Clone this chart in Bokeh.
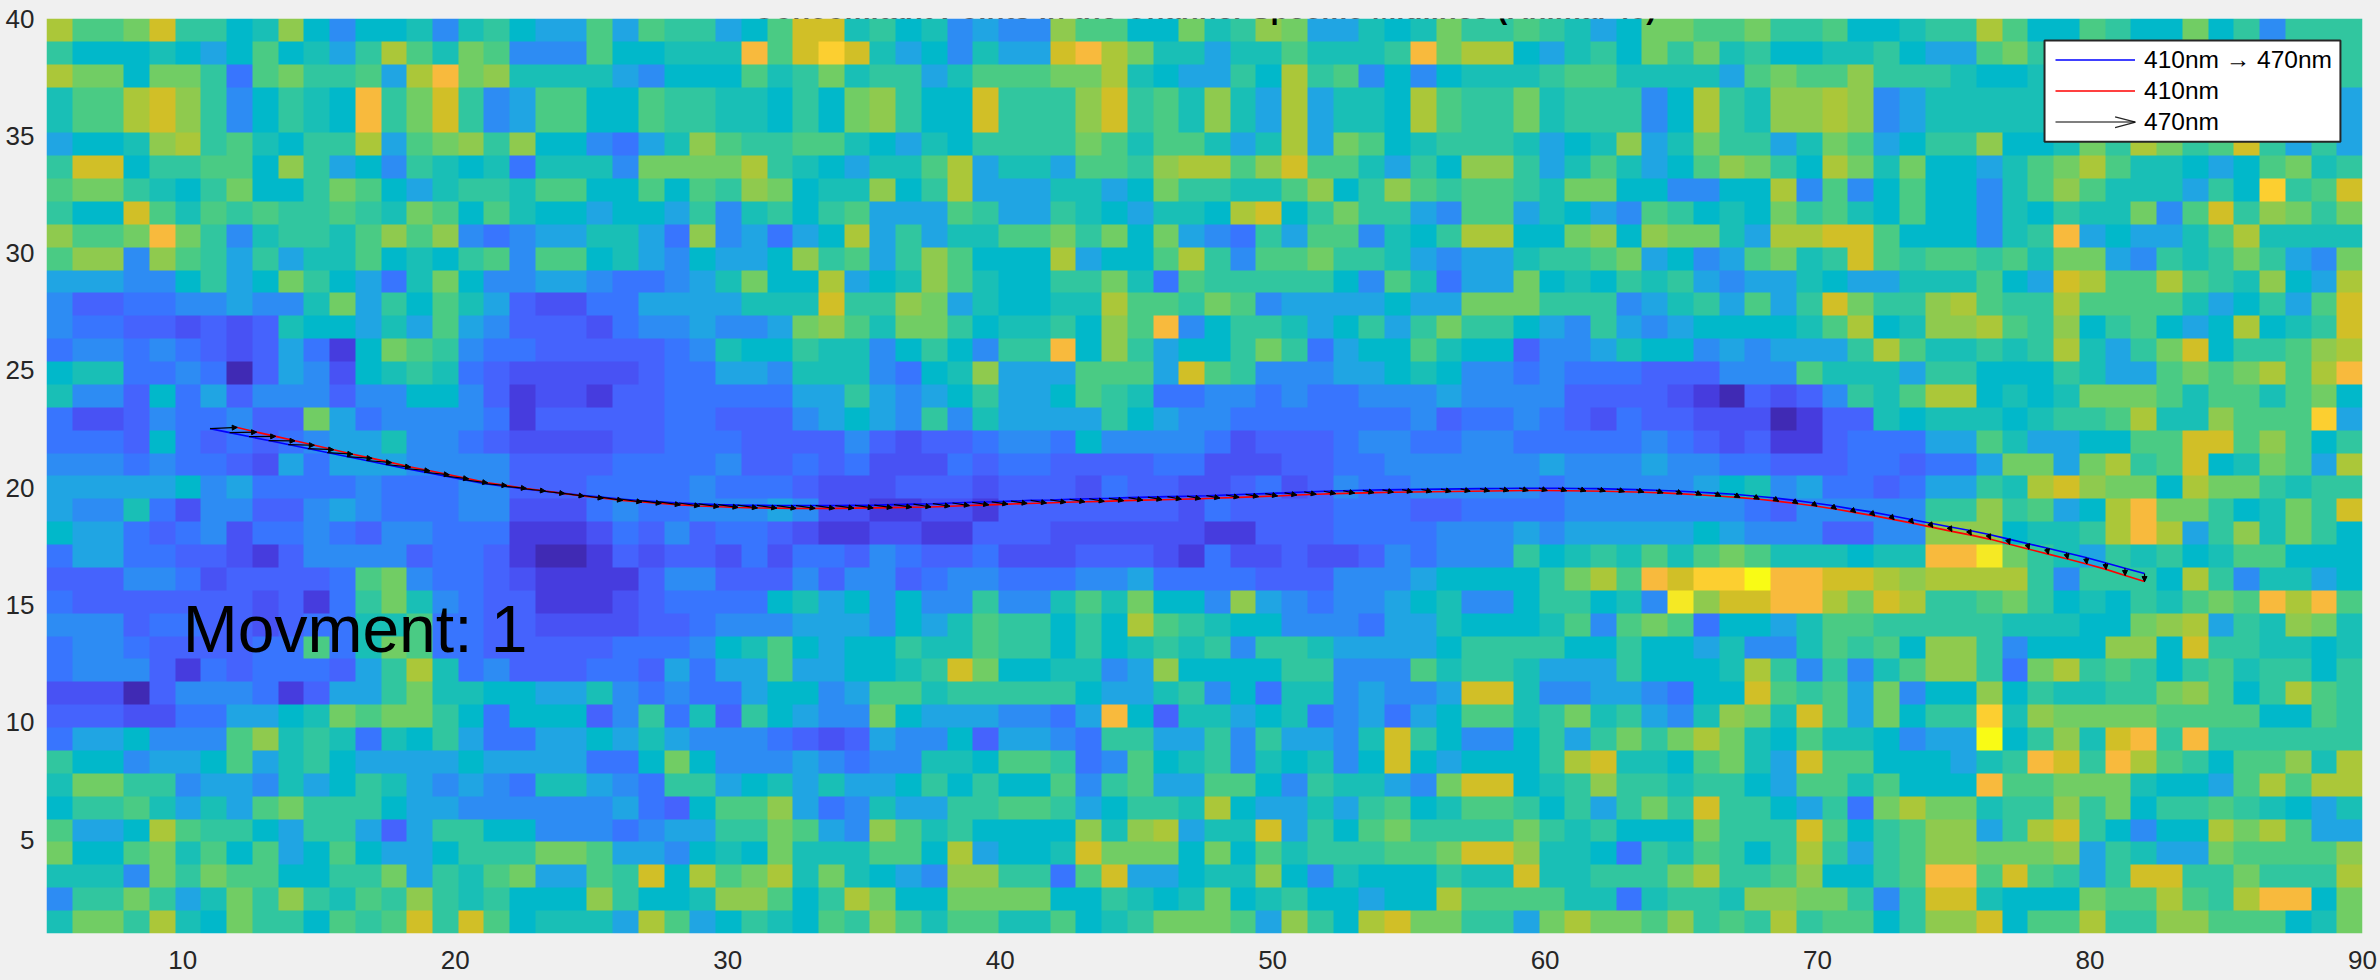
import numpy as np
from bokeh.plotting import figure
from bokeh.embed import file_html
from bokeh.resources import INLINE
from bokeh.models import (Range1d, FixedTicker, LinearColorMapper, Legend, LegendItem, Label,
                          BoxAnnotation, Arrow, NormalHead, ColumnDataSource)

# heat-map cells, top row (y=40) first; columns 1-30, 31-60, 61-90
left_cells = """c99ad 8867b 64667 47865 59598 8569d
86667 65696 758c9 7a944 49667 77e9d
caa6a a839a 8895c eab77 77546 66978
799cd b8468 76e8a d8459 96698 87768
799cd b8468 76e8a d8459 96698 87768
5667b c8976 88c59 ab8b6 64357 b9889
8dd68 8996b 85648 76737 774aa aac87
9aa87 68a66 8a965 78879 96696 98ba6
866d9 79898 8987a 96976 65665 84786
b99ae a8478 879b9 b4345 57753 b4535
9bb4b 98585 77967 68949 96754 6556b
55544 6856a 86537 a6445 54334 57a66
42233 44544 7a586 97521 13355 55777
43322 12127 66575 95422 21344 5445a
34434 32125 3x6a9 84332 22223 47668
67733 43025 41678 73211 11123 35547
74426 35244 42446 642x1 1x223 33335
31124 33422 a5344 443x2 22223 32224
33326 32323 45574 43211 11223 33222
44434 33215 35554 44422 22333 34223
55555 64533 33433 34422 23333 43332
54473 14422 45433 34411 13433 44454
65532 34133 43244 333xx x1324 23321
35533 221x2 44442 332x0 0x212 21313
22244 31222 239a4 3321x xxx24 42224
32222 22212 x38a7 4322x xx123 33367
44423 32212 33779 33221 11122 34445
34432 22233 937a9 33222 22333 46796
34442 x3233 3258c 73422 23325 35595
11102 4443x 2558a 77665 57434 33566
22211 33556 7a9aa 86366 62483 72865
35564 449b7 87376 85335 56575 44432
86645 56957 86555 56555 5336a 64445
7aa88 45547 56875 45437 75438 85675
68897 5759a 88865 54444 44532 699b5
9556c 98865 88525 88664 44345 588a9
a669a 79695 69655 6888a a9554 676a7
7774a 8a996 688a5 879a5 598d6 c9ac7
488a8 57a8b 8798b 87866 6b866 7bb96
7aa8c 76a88 6989d 8d967 775c9 56876"""

middle_cells = """d7867 4544b 9966a 78ba5 5767a 88987
gd756 4755d eca77 57797 778ea cc657
a7885 7999a ac765 586c8 94646 77789
6ab86 6d888 bd897 b75c5 776c9 88a78
6ab86 6d888 bd897 b75c5 776c9 88a78
97657 68888 a9799 757c5 a9678 88756
65779 c5775 998bc c9bd9 97586 bb857
77b68 c5557 756a8 8779b 68b98 9987a
89555 98558 76577 6cd68 a8854 99576
6c585 7799a 8a6a5 43859 94768 cc66a
8958b 9666c 5669c 8499a 88754 55788
c567b 97668 8a739 88888 64973 55a67
d88ba 57667 7c998 a9455 55655 aaa88
b97aa 86778 6b9e4 68875 6858a 88654
77468 6488e 6b856 68a83 56697 66244
77436 7b555 9995d 98444 55676 44343
58545 68556 98733 44343 34445 44442
56548 47555 58654 43333 33342 33432
24212 23443 64444 31222 34433 44333
23111 32332 22233 11122 33444 44454
11122 21222 13221 12312 43344 44434
11xx1 1x222 22221 32222 33322 33334
xx11x x2221 11111 xx222 33334 44545
32432 23111 2221x 31121 12434 44867
24423 44333 44533 33222 44456 6668a
56464 48447 97a66 4b543 44567 44688
55465 79886 86c98 76644 43557 66679
56687 79886 86787 84887 55556 88886
56678 da667 745b6 66688 44497 88755
45997 88888 65578 46377 45445 dd744
44a65 55443 5e627 75673 45356 9978a
12544 62554 38855 84855 47d86 44685
43447 76998 34967 84767 46d65 6668c
75568 68669 48955 99648 7754a dd678
34755 88998 56887 c6557 58967 99868
54b97 86666 b7bc5 77d58 69a88 88a87
77996 c5667 daaa6 a6978 8899a ddb77
a7654 bb883 9d556 77b64 76668 77d77
8ca66 aaaa6 68767 a6786 6566c 99997
98b97 99779 678aa a95b8 6cdaa 885ac"""

right_cells = """56aa9 9a889 66788 c9669 866a6 84888
86a8a 78667 78655 9a887 88878 87888
97777 59a99 b8887 66778 78887 88788
8846c 87bbc b4577 77778 78878 87765
8846c 87bbc b4577 77778 78878 87765
7b57a 8857a 95688 b667a 8ca89 d8585
97569 ba86c a7a66 579ac 97765 69a78
a6644 66c49 46966 479b9 77758 6g89d
54986 76a89 76966 47687 7a49d 8ba8a
b6baa 75ccd d9666 478e5 65579 c7777
9a564 59a78 d9899 897aa 54878 a854a
68785 45576 55777 965dc 99c98 7b65c
84578 5958d a88bc 988c9 99975 6859d
85456 66679 c67bb c98b6 89656 c678d
57664 54555 8c977 878c7 58ad6 889bc
33222 44497 77588 66687 559a9 ac9ce
2221x 02124 879cc 6767a aa979 979a6
13221 110x2 27677 76788 9c77b 999g5
33432 12xx2 33355 97556 699dd 9b968
44544 33222 33233 5aa5a c89d6 7a95c
44445 67453 32355 87cdb aa6ca a8788
44444 43244 44488 b8956 ceaa8 67a8d
55556 54442 244bb b6778 cec58 b7a86
87979 a9777 677ee ha875 87867 99666
c9edg gfeed dcbcc cc848 886c8 47756
674hb ddeec adc88 9a867 6879a 9ece9
49a93 66579 98888 87776 6abc5 87ba7
68665 74479 896bb 84666 bb6d8 87767
58666 7c848 479bb 83ac8 98689 78868
55436 6d989 5a466 b6877 88ab9 68c98
78547 ba7d9 5a688 g7baa aa999 96698
8a8ac a7697 76455 f68b7 de8e8 88888
d7769 a75d9 96665 78ed8 ec986 99b7c
b8878 86599 79666 e99aa a7665 9c9cc
58a8d 88658 3acaa 788b8 a6889 87657
8666a 888d9 689bb 58cd8 6466c ac955
63879 868c8 589bb aaab5 8755a 9999b
888ac 889b6 689ee 9d985 8dd88 a888c
73788 7bbaa 848dd 7666a 99c98 cee6a
aa9b8 98c89 968bb d699c 88bb9 9967a"""

cell_levels = "0x123456789abcdeghf"
level_colors = ["#402ab4", "#463cde", "#4852f4", "#4563fd", "#3875fe", "#2d8cf3", "#20a5e3",
                "#01b8ca", "#19bfb6", "#31c69f", "#4acb84", "#71cd64", "#8fca4e", "#abc739",
                "#d1bf27", "#f8ba3d", "#fccf30", "#f5e924", "#f9fb15"]

x_ticks = [10, 20, 30, 40, 50, 60, 70, 80, 90]
y_ticks = [5, 10, 15, 20, 25, 30, 35, 40]

blue_x = [11.00, 11.72, 12.43, 13.15, 13.87, 14.59, 15.30, 16.02, 16.74, 17.45,
          18.17, 18.89, 19.61, 20.32, 21.04, 21.76, 22.47, 23.19, 23.91, 24.63,
          25.34, 26.06, 26.78, 27.49, 28.21, 28.93, 29.65, 30.36, 31.08, 31.80,
          32.51, 33.23, 33.95, 34.67, 35.38, 36.10, 36.82, 37.53, 38.25, 38.97,
          39.69, 40.40, 41.12, 41.84, 42.55, 43.27, 43.99, 44.71, 45.42, 46.14,
          46.86, 47.57, 48.29, 49.01, 49.73, 50.44, 51.16, 51.88, 52.59, 53.31,
          54.03, 54.75, 55.46, 56.18, 56.90, 57.61, 58.33, 59.05, 59.77, 60.48,
          61.20, 61.92, 62.63, 63.35, 64.07, 64.79, 65.50, 66.22, 66.94, 67.65,
          68.37, 69.09, 69.81, 70.52, 71.24, 71.96, 72.67, 73.39, 74.11, 74.83,
          75.54, 76.26, 76.98, 77.69, 78.41, 79.13, 79.85, 80.56, 81.28, 82.00]
blue_y = [22.52, 22.35, 22.18, 22.01, 21.84, 21.67, 21.50, 21.33, 21.16, 20.99,
          20.82, 20.66, 20.50, 20.34, 20.18, 20.07, 19.96, 19.86, 19.77, 19.68,
          19.60, 19.52, 19.45, 19.40, 19.35, 19.31, 19.28, 19.26, 19.25, 19.24,
          19.24, 19.24, 19.24, 19.25, 19.26, 19.28, 19.30, 19.32, 19.35, 19.38,
          19.40, 19.43, 19.46, 19.48, 19.51, 19.53, 19.55, 19.58, 19.60, 19.62,
          19.64, 19.66, 19.69, 19.72, 19.75, 19.78, 19.82, 19.85, 19.87, 19.89,
          19.91, 19.92, 19.93, 19.94, 19.95, 19.96, 19.97, 19.98, 19.98, 19.98,
          19.97, 19.96, 19.94, 19.92, 19.89, 19.86, 19.82, 19.77, 19.72, 19.65,
          19.57, 19.47, 19.36, 19.24, 19.10, 18.97, 18.82, 18.66, 18.50, 18.34,
          18.19, 18.02, 17.82, 17.62, 17.43, 17.23, 17.03, 16.80, 16.57, 16.34]
red_x = [12.00, 12.71, 13.41, 14.12, 14.83, 15.54, 16.24, 16.95, 17.66, 18.36,
         19.07, 19.78, 20.49, 21.19, 21.90, 22.61, 23.31, 24.02, 24.73, 25.43,
         26.14, 26.85, 27.56, 28.26, 28.97, 29.68, 30.38, 31.09, 31.80, 32.51,
         33.21, 33.92, 34.63, 35.34, 36.04, 36.75, 37.46, 38.16, 38.87, 39.58,
         40.28, 40.99, 41.70, 42.41, 43.11, 43.82, 44.53, 45.23, 45.94, 46.65,
         47.36, 48.06, 48.77, 49.48, 50.18, 50.89, 51.60, 52.31, 53.01, 53.72,
         54.43, 55.13, 55.84, 56.55, 57.25, 57.96, 58.67, 59.38, 60.08, 60.79,
         61.50, 62.21, 62.91, 63.62, 64.33, 65.03, 65.74, 66.45, 67.15, 67.86,
         68.57, 69.28, 69.98, 70.69, 71.40, 72.10, 72.81, 73.52, 74.23, 74.93,
         75.64, 76.35, 77.05, 77.76, 78.47, 79.18, 79.88, 80.59, 81.29, 82.00]
red_y = [22.57, 22.37, 22.19, 22.00, 21.81, 21.62, 21.43, 21.25, 21.07, 20.88,
         20.72, 20.55, 20.38, 20.21, 20.09, 19.97, 19.86, 19.75, 19.64, 19.55,
         19.46, 19.39, 19.33, 19.27, 19.22, 19.19, 19.16, 19.14, 19.13, 19.12,
         19.12, 19.12, 19.13, 19.14, 19.15, 19.17, 19.18, 19.21, 19.24, 19.27,
         19.30, 19.33, 19.35, 19.38, 19.40, 19.42, 19.45, 19.47, 19.49, 19.51,
         19.53, 19.56, 19.59, 19.62, 19.65, 19.69, 19.72, 19.75, 19.77, 19.79,
         19.81, 19.82, 19.83, 19.84, 19.85, 19.86, 19.87, 19.88, 19.88, 19.87,
         19.86, 19.85, 19.83, 19.81, 19.78, 19.74, 19.69, 19.64, 19.58, 19.51,
         19.42, 19.32, 19.21, 19.08, 18.94, 18.80, 18.64, 18.48, 18.31, 18.14,
         17.98, 17.80, 17.59, 17.38, 17.17, 16.96, 16.75, 16.52, 16.26, 16.00]

title_text = "Concomitant Points in the Channel-Specific Midlines (Animal 45)"
movement_text = "Movment: 1"
legend_labels = ["410nm\u00a0\u2192 470nm", "410nm", "470nm"]

rows = []
for a, b, c in zip(left_cells.split("\n"), middle_cells.split("\n"), right_cells.split("\n")):
    line = (a + b + c).replace(" ", "")
    rows.append([cell_levels.index(ch) for ch in line])
grid = np.array(rows, dtype=float)[::-1]

p = figure(width=2380, height=980, output_backend="svg", toolbar_location=None,
           x_range=Range1d(5, 90), y_range=Range1d(1, 40),
           min_border_left=46, min_border_right=18, min_border_top=18, min_border_bottom=47,
           background_fill_color="#f0f0f0", border_fill_color="#f0f0f0")
p.title = None
p.outline_line_color = None
p.grid.visible = False

for ax in (p.xaxis[0], p.yaxis[0]):
    ax.axis_line_color = None
    ax.major_tick_line_color = None
    ax.minor_tick_line_color = None
    ax.major_tick_out = 0
    ax.major_tick_in = 0
    ax.minor_tick_out = 0
    ax.minor_tick_in = 0
    ax.major_label_text_font = "Liberation Sans"
    ax.major_label_text_font_size = "26px"
    ax.major_label_text_color = "#262626"
p.xaxis[0].ticker = FixedTicker(ticks=x_ticks)
p.yaxis[0].ticker = FixedTicker(ticks=y_ticks)
p.xaxis[0].major_label_standoff = 17
p.yaxis[0].major_label_standoff = 12

mapper = LinearColorMapper(palette=level_colors, low=-0.5, high=len(level_colors) - 0.5)
p.image(image=[grid], x=5, y=1, dw=85, dh=39, color_mapper=mapper)

blue_line = p.line(blue_x, blue_y, line_color="#0000ff", line_width=1.6)
red_line = p.line(red_x, red_y, line_color="#ff0000", line_width=1.6)
shafts = p.segment(x0=blue_x, y0=blue_y, x1=red_x, y1=red_y, line_color="#000000", line_width=1.2)

heads = ColumnDataSource(dict(x0=blue_x, y0=blue_y, x1=red_x, y1=red_y))
p.add_layout(Arrow(end=NormalHead(size=5, fill_color="#000000", line_color="#000000", line_width=1),
                   x_start="x0", y_start="y0", x_end="x1", y_end="y1", source=heads,
                   line_alpha=0))

# legend frame (white box behind a transparent legend)
p.add_layout(BoxAnnotation(left=78.33, right=89.19, top=39.06, bottom=34.75,
                           fill_color="#ffffff", fill_alpha=1,
                           line_color="#262626", line_alpha=1, line_width=2))
legend = Legend(items=[LegendItem(label=legend_labels[0], renderers=[blue_line]),
                       LegendItem(label=legend_labels[1], renderers=[red_line]),
                       LegendItem(label=legend_labels[2], renderers=[shafts])],
                location=(2005, 792), orientation="vertical",
                background_fill_alpha=0, border_line_alpha=0,
                padding=4, margin=0, spacing=0,
                glyph_width=80, glyph_height=31, label_height=31, label_standoff=9,
                label_text_font="Liberation Sans", label_text_font_size="24.5px",
                label_text_color="#000000")
p.add_layout(legend, "center")
# open head on the legend's arrow key
p.line([80.92, 81.67, 80.92], [35.81, 35.58, 35.35], line_color="#262626", line_width=1.2, level="overlay")

p.add_layout(Label(x=10, y=13.97, text=movement_text, text_font="Liberation Sans",
                   text_font_size="66px", text_color="#000000", text_baseline="alphabetic"))
p.add_layout(Label(x=47.5, y=40.42, text=title_text, text_font="Liberation Sans",
                   text_font_style="bold", text_font_size="29.4px", text_color="#000000",
                   text_align="center", text_baseline="alphabetic"))

html = file_html(p, INLINE).replace("<body>", '<body style="margin:0;background:#f0f0f0">')
open("out.html", "w").write(html)
